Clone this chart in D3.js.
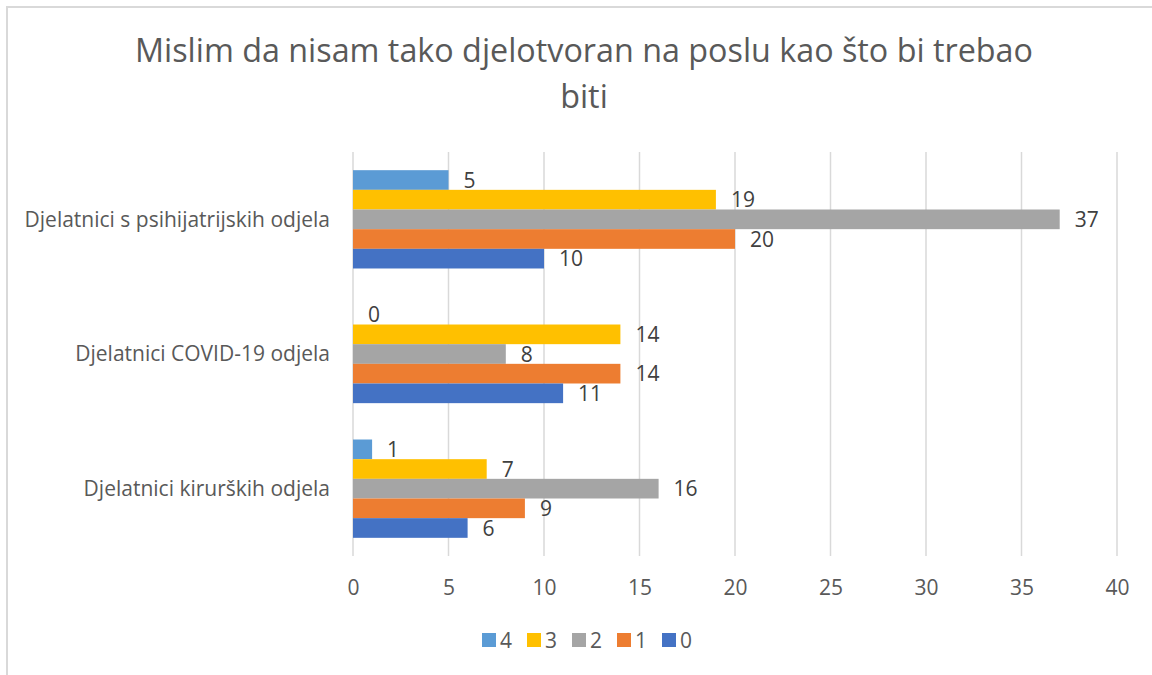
<html>
<head>
  <meta charset="utf-8">
  <script src="https://d3js.org/d3.v7.min.js"></script>
</head>
<style>
  body { margin: 0; background: #fff; }
  text { font-family: "Open Sans", "Noto Sans", sans-serif; fill: #595959; }
  .grid line { stroke: #d9d9d9; stroke-width: 1.5px; }
</style>
<body>
  <svg id="chart" width="1152" height="675"></svg>
  <script>
    // data
    const categories = ["Djelatnici s psihijatrijskih odjela", "Djelatnici COVID-19 odjela", "Djelatnici kirurških odjela"];
    const seriesNames = ["4", "3", "2", "1", "0"];
    const s4 = [5, 0, 1];
    const s3 = [19, 14, 7];
    const s2 = [37, 8, 16];
    const s1 = [20, 14, 9];
    const s0 = [10, 11, 6];
    const xTicks = [0, 5, 10, 15, 20, 25, 30, 35, 40];
    const titleLines = ["Mislim da nisam tako djelotvoran na poslu kao što bi trebao", "biti"];

    const colors = { "4": "#5B9BD5", "3": "#FFC000", "2": "#A5A5A5", "1": "#ED7D31", "0": "#4472C4" };
    const seriesVals = { "4": s4, "3": s3, "2": s2, "1": s1, "0": s0 };

    const svg = d3.select("svg#chart");
    const margin = { top: 152, bottom: 556, left: 353, right: 1117 };

    // outer chart border (only top and left visible)
    svg.append("rect")
      .attr("x", 7).attr("y", 7)
      .attr("width", 1160).attr("height", 690)
      .attr("fill", "none").attr("stroke", "#d9d9d9").attr("stroke-width", 2);

    // title
    svg.append("g").selectAll("text")
      .data(titleLines)
      .join("text")
      .attr("x", 584)
      .attr("y", (d, i) => 62 + i * 46)
      .attr("text-anchor", "middle")
      .style("font-size", "32.3px")
      .text(d => d);

    const x = d3.scaleLinear().domain([0, 40]).range([margin.left, margin.right]);
    const y = d3.scaleBand().domain(categories).range([margin.top, margin.bottom])
      .paddingInner(0.27).paddingOuter(0.135);
    const ySub = d3.scaleBand().domain(seriesNames).range([0, y.bandwidth()]);

    // gridlines
    svg.append("g").attr("class", "grid")
      .selectAll("line")
      .data(xTicks)
      .join("line")
      .attr("x1", d => x(d)).attr("x2", d => x(d))
      .attr("y1", margin.top).attr("y2", margin.bottom);

    // x tick labels
    const bottomAxis = d3.axisBottom(x).tickValues(xTicks).tickSize(0).tickPadding(0);
    const axisG = svg.append("g")
      .attr("transform", `translate(0, 578)`)
      .call(bottomAxis);
    axisG.select(".domain").remove();
    axisG.selectAll("text")
      .attr("dy", "0").attr("y", 17)
      .style("font-size", "21px")
      .style("font-family", "'Open Sans'")
      .attr("fill", "#595959");

    // category labels
    svg.append("g").selectAll("text")
      .data(categories)
      .join("text")
      .attr("x", 330)
      .attr("y", d => y(d) + y.bandwidth() / 2)
      .attr("dy", "0.35em")
      .attr("text-anchor", "end")
      .style("font-size", "21px")
      .text(d => d);

    // bars
    const groups = svg.append("g").selectAll("g")
      .data(categories)
      .join("g")
      .attr("transform", d => `translate(0, ${y(d)})`);

    groups.each(function (cat, ci) {
      const g = d3.select(this);
      const rows = seriesNames.map(s => ({ s, v: seriesVals[s][ci] }));
      g.selectAll("rect")
        .data(rows)
        .join("rect")
        .attr("x", x(0))
        .attr("y", d => ySub(d.s))
        .attr("width", d => x(d.v) - x(0))
        .attr("height", ySub.bandwidth())
        .attr("fill", d => colors[d.s]);
      g.selectAll("text")
        .data(rows)
        .join("text")
        .attr("x", d => x(d.v) + 15)
        .attr("y", d => ySub(d.s) + ySub.bandwidth() / 2)
        .attr("dy", "0.36em")
        .style("font-size", "21px")
        .style("fill", "#404040")
        .text(d => d.v);
    });

    // legend
    const legendX = d3.scalePoint().domain(seriesNames).range([482, 662]);
    const legend = svg.append("g").selectAll("g")
      .data(seriesNames)
      .join("g")
      .attr("transform", d => `translate(${legendX(d)}, 633)`);
    legend.append("rect")
      .attr("width", 14).attr("height", 14)
      .attr("fill", d => colors[d]);
    legend.append("text")
      .attr("x", 18).attr("y", 15)
      .style("font-size", "21px")
      .text(d => d);
  </script>
</body>
</html>
